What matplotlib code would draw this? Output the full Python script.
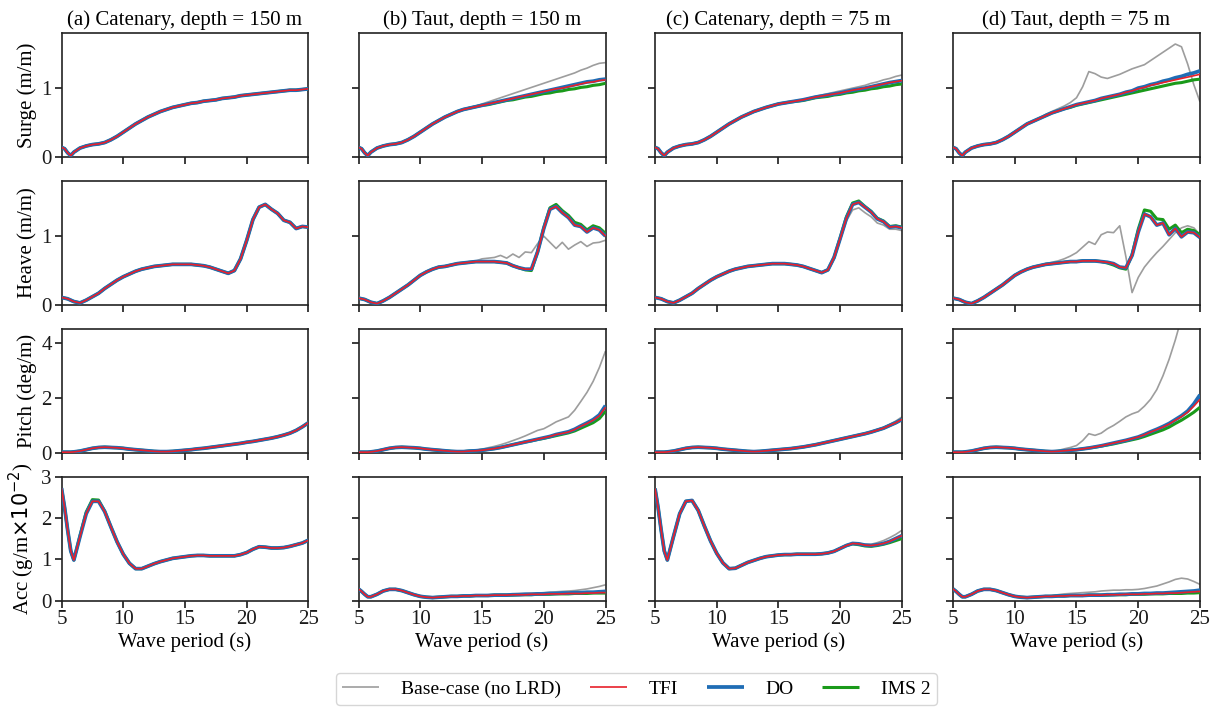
import matplotlib
matplotlib.use("Agg")
import matplotlib.pyplot as plt

plt.rcParams['font.family'] = ['Liberation Serif', 'DejaVu Serif']
plt.rcParams['mathtext.fontset'] = 'dejavusans'

# ---------------- data ----------------
period = [5.0, 5.25, 5.5, 5.75, 6.0, 6.5, 7.0, 7.5, 8.0, 8.5, 9.0, 9.5, 10.0, 10.5, 11.0,
          11.5, 12.0, 12.5, 13.0, 13.5, 14.0, 14.5, 15.0, 15.5, 16.0, 16.5, 17.0, 17.5,
          18.0, 18.5, 19.0, 19.5, 20.0, 20.5, 21.0, 21.5, 22.0, 22.5, 23.0, 23.5, 24.0,
          24.5, 25.0]

col_titles = ["(a) Catenary, depth = 150 m", "(b) Taut, depth = 150 m",
              "(c) Catenary, depth = 75 m", "(d) Taut, depth = 75 m"]
row_labels = ["Surge (m/m)", "Heave (m/m)", "Pitch (deg/m)", r"Acc (g/m$\times10^{-2}$)"]
row_ylims = [1.8, 1.8, 4.5, 3.0]
row_yticks = [[0, 1], [0, 1], [0, 2, 4], [0, 1, 2, 3]]
x_ticks = [5, 10, 15, 20, 25]
series_names = ["Base-case (no LRD)", "TFI", "DO", "IMS 2"]

# Surge
surge_a_tfi = [0.14, 0.12, 0.06, 0.02, 0.07, 0.13, 0.16, 0.18, 0.19, 0.21, 0.25, 0.30, 0.36, 0.42, 0.48,
               0.53, 0.58, 0.62, 0.66, 0.69, 0.72, 0.74, 0.76, 0.78, 0.79, 0.81, 0.82, 0.83, 0.85,
               0.86, 0.87, 0.89, 0.90, 0.91, 0.92, 0.93, 0.94, 0.95, 0.96, 0.97, 0.97, 0.98, 0.99]
surge_a_base = surge_a_tfi
surge_a_do = surge_a_tfi
surge_a_ims = surge_a_tfi

surge_b_tfi = [0.14, 0.12, 0.06, 0.02, 0.07, 0.13, 0.16, 0.18, 0.19, 0.21, 0.25, 0.30, 0.36, 0.42, 0.48,
               0.53, 0.58, 0.62, 0.66, 0.69, 0.71, 0.73, 0.75, 0.77, 0.79, 0.81, 0.83, 0.85, 0.87,
               0.89, 0.91, 0.93, 0.95, 0.97, 0.99, 1.00, 1.02, 1.04, 1.06, 1.08, 1.09, 1.11, 1.12]
surge_b_do = [0.14, 0.12, 0.06, 0.02, 0.07, 0.13, 0.16, 0.18, 0.19, 0.21, 0.25, 0.30, 0.36, 0.42, 0.48,
              0.53, 0.58, 0.62, 0.66, 0.69, 0.71, 0.73, 0.75, 0.77, 0.79, 0.81, 0.83, 0.85, 0.87,
              0.89, 0.91, 0.93, 0.95, 0.97, 0.99, 1.01, 1.03, 1.05, 1.07, 1.09, 1.10, 1.12, 1.13]
surge_b_ims = [0.14, 0.12, 0.06, 0.02, 0.07, 0.13, 0.16, 0.18, 0.19, 0.21, 0.25, 0.30, 0.36, 0.42, 0.48,
               0.53, 0.58, 0.62, 0.66, 0.69, 0.71, 0.73, 0.75, 0.76, 0.78, 0.80, 0.82, 0.83, 0.85,
               0.87, 0.88, 0.90, 0.92, 0.93, 0.95, 0.96, 0.98, 0.99, 1.01, 1.02, 1.04, 1.05, 1.07]
surge_b_base = [0.14, 0.12, 0.06, 0.02, 0.07, 0.13, 0.16, 0.18, 0.19, 0.21, 0.25, 0.30, 0.36, 0.42, 0.48,
                0.53, 0.58, 0.62, 0.66, 0.69, 0.72, 0.74, 0.77, 0.80, 0.83, 0.86, 0.89, 0.92, 0.95,
                0.98, 1.01, 1.04, 1.07, 1.10, 1.13, 1.16, 1.19, 1.22, 1.26, 1.29, 1.33, 1.36, 1.37]

surge_c_tfi = [0.14, 0.12, 0.06, 0.02, 0.07, 0.13, 0.16, 0.18, 0.19, 0.21, 0.25, 0.30, 0.36, 0.42, 0.48,
               0.53, 0.58, 0.62, 0.66, 0.69, 0.72, 0.745, 0.77, 0.785, 0.80, 0.815, 0.83, 0.85, 0.87,
               0.885, 0.90, 0.915, 0.93, 0.95, 0.97, 0.985, 1.00, 1.02, 1.04, 1.06, 1.08, 1.095, 1.11]
surge_c_do = surge_c_tfi
surge_c_base = [0.14, 0.12, 0.06, 0.02, 0.07, 0.13, 0.16, 0.18, 0.19, 0.21, 0.25, 0.30, 0.36, 0.42, 0.48,
                0.53, 0.58, 0.62, 0.66, 0.69, 0.72, 0.745, 0.77, 0.785, 0.80, 0.815, 0.83, 0.86, 0.88,
                0.90, 0.92, 0.94, 0.96, 0.98, 1.00, 1.02, 1.04, 1.07, 1.09, 1.12, 1.14, 1.17, 1.19]
surge_c_ims = [0.14, 0.12, 0.06, 0.02, 0.07, 0.13, 0.16, 0.18, 0.19, 0.21, 0.25, 0.30, 0.36, 0.42, 0.48,
               0.53, 0.58, 0.62, 0.66, 0.69, 0.72, 0.745, 0.77, 0.785, 0.80, 0.81, 0.82, 0.84, 0.86,
               0.87, 0.88, 0.90, 0.91, 0.93, 0.94, 0.96, 0.97, 0.99, 1.00, 1.02, 1.03, 1.05, 1.06]

surge_d_tfi = [0.14, 0.12, 0.06, 0.02, 0.07, 0.13, 0.16, 0.18, 0.19, 0.21, 0.25, 0.30, 0.36, 0.42, 0.48,
               0.52, 0.56, 0.60, 0.64, 0.67, 0.70, 0.73, 0.76, 0.78, 0.80, 0.82, 0.85, 0.87, 0.89,
               0.91, 0.94, 0.96, 0.99, 1.01, 1.04, 1.06, 1.08, 1.10, 1.12, 1.14, 1.16, 1.18, 1.20]
surge_d_do = [0.14, 0.12, 0.06, 0.02, 0.07, 0.13, 0.16, 0.18, 0.19, 0.21, 0.25, 0.30, 0.36, 0.42, 0.48,
              0.52, 0.56, 0.60, 0.64, 0.67, 0.70, 0.73, 0.76, 0.78, 0.80, 0.82, 0.85, 0.87, 0.89,
              0.91, 0.94, 0.96, 1.00, 1.02, 1.05, 1.07, 1.10, 1.12, 1.15, 1.17, 1.20, 1.22, 1.25]
surge_d_ims = [0.14, 0.12, 0.06, 0.02, 0.07, 0.13, 0.16, 0.18, 0.19, 0.21, 0.25, 0.30, 0.36, 0.42, 0.48,
               0.52, 0.56, 0.60, 0.64, 0.67, 0.70, 0.72, 0.75, 0.77, 0.79, 0.81, 0.83, 0.85, 0.87,
               0.89, 0.91, 0.93, 0.95, 0.97, 0.99, 1.01, 1.03, 1.05, 1.07, 1.08, 1.10, 1.12, 1.13]
surge_d_base = [0.14, 0.12, 0.06, 0.02, 0.07, 0.13, 0.16, 0.18, 0.19, 0.21, 0.25, 0.30, 0.36, 0.42, 0.48,
                0.52, 0.56, 0.62, 0.66, 0.70, 0.74, 0.79, 0.86, 1.02, 1.24, 1.21, 1.16, 1.14, 1.17,
                1.20, 1.24, 1.28, 1.31, 1.34, 1.40, 1.46, 1.52, 1.58, 1.64, 1.60, 1.35, 1.05, 0.80]

# Heave
heave_a_tfi = [0.11, 0.10, 0.09, 0.07, 0.05, 0.03, 0.07, 0.12, 0.17, 0.24, 0.30, 0.36, 0.41, 0.45, 0.49,
               0.52, 0.54, 0.56, 0.57, 0.58, 0.59, 0.59, 0.59, 0.59, 0.58, 0.57, 0.55, 0.52, 0.49,
               0.46, 0.50, 0.67, 0.94, 1.24, 1.42, 1.46, 1.39, 1.33, 1.23, 1.20, 1.11, 1.14, 1.13]
heave_a_base = heave_a_tfi
heave_a_do = heave_a_tfi
heave_a_ims = heave_a_tfi

heave_b_tfi = [0.10, 0.09, 0.08, 0.06, 0.04, 0.02, 0.06, 0.11, 0.17, 0.23, 0.29, 0.36, 0.43, 0.48, 0.52,
               0.55, 0.56, 0.58, 0.60, 0.61, 0.62, 0.63, 0.63, 0.63, 0.63, 0.62, 0.61, 0.57, 0.54,
               0.52, 0.52, 0.77, 1.11, 1.39, 1.43, 1.34, 1.27, 1.16, 1.14, 1.06, 1.12, 1.09, 1.00]
heave_b_do = heave_b_tfi
heave_b_ims = [0.10, 0.09, 0.08, 0.06, 0.04, 0.02, 0.06, 0.11, 0.17, 0.23, 0.29, 0.36, 0.43, 0.48, 0.52,
               0.55, 0.56, 0.58, 0.60, 0.61, 0.62, 0.63, 0.63, 0.63, 0.63, 0.62, 0.61, 0.57, 0.54,
               0.51, 0.50, 0.77, 1.12, 1.41, 1.46, 1.37, 1.30, 1.20, 1.17, 1.09, 1.15, 1.12, 1.04]
heave_b_base = [0.10, 0.09, 0.08, 0.06, 0.04, 0.02, 0.06, 0.11, 0.17, 0.23, 0.29, 0.36, 0.43, 0.48, 0.52,
                0.55, 0.56, 0.58, 0.60, 0.61, 0.62, 0.64, 0.67, 0.68, 0.69, 0.72, 0.68, 0.74, 0.69,
                0.77, 0.76, 0.89, 1.00, 0.91, 0.82, 0.91, 0.81, 0.87, 0.92, 0.85, 0.90, 0.91, 0.94]

heave_c_tfi = [0.11, 0.10, 0.09, 0.07, 0.05, 0.03, 0.07, 0.12, 0.17, 0.24, 0.30, 0.36, 0.41, 0.45, 0.49,
               0.52, 0.54, 0.56, 0.57, 0.58, 0.59, 0.60, 0.60, 0.60, 0.59, 0.58, 0.56, 0.53, 0.50,
               0.47, 0.51, 0.69, 0.97, 1.26, 1.46, 1.49, 1.42, 1.35, 1.25, 1.21, 1.13, 1.14, 1.12]
heave_c_do = heave_c_tfi
heave_c_ims = [0.11, 0.10, 0.09, 0.07, 0.05, 0.03, 0.07, 0.12, 0.17, 0.24, 0.30, 0.36, 0.41, 0.45, 0.49,
               0.52, 0.54, 0.56, 0.57, 0.58, 0.59, 0.60, 0.60, 0.60, 0.59, 0.58, 0.56, 0.53, 0.50,
               0.47, 0.51, 0.69, 0.98, 1.28, 1.48, 1.51, 1.43, 1.36, 1.26, 1.22, 1.14, 1.15, 1.13]
heave_c_base = [0.11, 0.10, 0.09, 0.07, 0.05, 0.03, 0.07, 0.12, 0.17, 0.24, 0.30, 0.36, 0.41, 0.45, 0.49,
                0.52, 0.54, 0.56, 0.57, 0.58, 0.59, 0.60, 0.60, 0.60, 0.59, 0.58, 0.56, 0.53, 0.50,
                0.47, 0.51, 0.68, 0.95, 1.22, 1.38, 1.41, 1.34, 1.28, 1.19, 1.16, 1.10, 1.10, 1.08]

heave_d_tfi = [0.10, 0.09, 0.08, 0.06, 0.04, 0.02, 0.06, 0.11, 0.17, 0.23, 0.29, 0.36, 0.43, 0.48, 0.52,
               0.55, 0.57, 0.59, 0.60, 0.61, 0.62, 0.63, 0.63, 0.64, 0.64, 0.64, 0.63, 0.62, 0.60,
               0.55, 0.54, 0.72, 1.06, 1.32, 1.28, 1.16, 1.19, 1.02, 1.11, 0.99, 1.06, 1.05, 0.98]
heave_d_do = heave_d_tfi
heave_d_ims = [0.10, 0.09, 0.08, 0.06, 0.04, 0.02, 0.06, 0.11, 0.17, 0.23, 0.29, 0.36, 0.43, 0.48, 0.52,
               0.55, 0.57, 0.59, 0.60, 0.61, 0.62, 0.63, 0.63, 0.64, 0.64, 0.64, 0.63, 0.61, 0.58,
               0.54, 0.52, 0.73, 1.10, 1.38, 1.36, 1.25, 1.24, 1.10, 1.16, 1.05, 1.10, 1.08, 1.02]
heave_d_base = [0.10, 0.09, 0.08, 0.06, 0.04, 0.02, 0.06, 0.11, 0.17, 0.23, 0.29, 0.36, 0.43, 0.48, 0.52,
                0.55, 0.57, 0.60, 0.62, 0.64, 0.67, 0.71, 0.76, 0.84, 0.92, 0.88, 1.02, 1.06, 1.05,
                1.15, 0.70, 0.18, 0.40, 0.55, 0.66, 0.76, 0.85, 0.95, 1.05, 1.12, 1.15, 1.12, 1.02]

# Pitch
pitch_a_tfi = [0.03, 0.03, 0.03, 0.03, 0.04, 0.07, 0.12, 0.17, 0.20, 0.21, 0.20, 0.19, 0.17, 0.14, 0.12,
               0.10, 0.08, 0.06, 0.05, 0.05, 0.06, 0.08, 0.10, 0.12, 0.15, 0.17, 0.20, 0.23, 0.26,
               0.29, 0.32, 0.35, 0.39, 0.42, 0.46, 0.50, 0.54, 0.59, 0.65, 0.72, 0.82, 0.95, 1.10]
pitch_a_base = pitch_a_tfi
pitch_a_do = pitch_a_tfi
pitch_a_ims = pitch_a_tfi

pitch_b_tfi = [0.03, 0.03, 0.03, 0.03, 0.04, 0.07, 0.12, 0.17, 0.20, 0.21, 0.20, 0.19, 0.17, 0.14, 0.12,
               0.10, 0.08, 0.06, 0.05, 0.05, 0.07, 0.08, 0.10, 0.13, 0.16, 0.20, 0.25, 0.30, 0.35,
               0.40, 0.45, 0.50, 0.55, 0.60, 0.67, 0.71, 0.76, 0.85, 0.97, 1.07, 1.19, 1.35, 1.66]
pitch_b_do = [0.03, 0.03, 0.03, 0.03, 0.04, 0.07, 0.12, 0.17, 0.20, 0.21, 0.20, 0.19, 0.17, 0.14, 0.12,
              0.10, 0.08, 0.06, 0.05, 0.05, 0.07, 0.08, 0.10, 0.13, 0.16, 0.20, 0.25, 0.30, 0.35,
              0.40, 0.45, 0.50, 0.55, 0.60, 0.67, 0.72, 0.77, 0.86, 0.98, 1.09, 1.21, 1.38, 1.72]
pitch_b_ims = [0.03, 0.03, 0.03, 0.03, 0.04, 0.07, 0.12, 0.17, 0.20, 0.21, 0.20, 0.19, 0.17, 0.14, 0.12,
               0.10, 0.08, 0.06, 0.05, 0.05, 0.07, 0.08, 0.10, 0.13, 0.16, 0.20, 0.25, 0.30, 0.35,
               0.40, 0.44, 0.49, 0.53, 0.58, 0.63, 0.68, 0.73, 0.80, 0.90, 1.00, 1.10, 1.25, 1.52]
pitch_b_base = [0.03, 0.03, 0.03, 0.03, 0.04, 0.07, 0.12, 0.17, 0.20, 0.21, 0.20, 0.19, 0.17, 0.14, 0.12,
                0.10, 0.08, 0.06, 0.05, 0.06, 0.07, 0.10, 0.14, 0.19, 0.24, 0.30, 0.37, 0.45, 0.53,
                0.62, 0.72, 0.82, 0.88, 1.00, 1.13, 1.22, 1.31, 1.55, 1.87, 2.20, 2.60, 3.10, 3.70]

pitch_c_tfi = [0.03, 0.03, 0.03, 0.03, 0.04, 0.07, 0.12, 0.17, 0.20, 0.21, 0.20, 0.19, 0.17, 0.14, 0.12,
               0.10, 0.08, 0.06, 0.05, 0.06, 0.08, 0.10, 0.12, 0.14, 0.16, 0.19, 0.22, 0.26, 0.30,
               0.35, 0.40, 0.45, 0.50, 0.55, 0.60, 0.65, 0.70, 0.76, 0.83, 0.90, 1.00, 1.10, 1.22]
pitch_c_do = pitch_c_tfi
pitch_c_ims = pitch_c_tfi
pitch_c_base = [0.03, 0.03, 0.03, 0.03, 0.04, 0.07, 0.12, 0.17, 0.20, 0.21, 0.20, 0.19, 0.17, 0.14, 0.12,
                0.10, 0.08, 0.06, 0.05, 0.06, 0.08, 0.10, 0.12, 0.14, 0.16, 0.19, 0.22, 0.26, 0.30,
                0.35, 0.40, 0.45, 0.50, 0.55, 0.60, 0.65, 0.71, 0.77, 0.85, 0.93, 1.04, 1.16, 1.31]

pitch_d_tfi = [0.03, 0.03, 0.03, 0.03, 0.04, 0.07, 0.12, 0.17, 0.20, 0.21, 0.20, 0.19, 0.17, 0.14, 0.12,
               0.10, 0.08, 0.06, 0.05, 0.06, 0.08, 0.10, 0.12, 0.15, 0.18, 0.22, 0.26, 0.31, 0.36,
               0.41, 0.46, 0.52, 0.58, 0.66, 0.76, 0.85, 0.94, 1.05, 1.19, 1.32, 1.48, 1.70, 1.95]
pitch_d_do = [0.03, 0.03, 0.03, 0.03, 0.04, 0.07, 0.12, 0.17, 0.20, 0.21, 0.20, 0.19, 0.17, 0.14, 0.12,
              0.10, 0.08, 0.06, 0.05, 0.06, 0.08, 0.10, 0.12, 0.15, 0.18, 0.22, 0.26, 0.31, 0.36,
              0.41, 0.46, 0.52, 0.58, 0.67, 0.77, 0.86, 0.96, 1.07, 1.21, 1.35, 1.52, 1.78, 2.11]
pitch_d_ims = [0.03, 0.03, 0.03, 0.03, 0.04, 0.07, 0.12, 0.17, 0.20, 0.21, 0.20, 0.19, 0.17, 0.14, 0.12,
               0.10, 0.08, 0.06, 0.05, 0.06, 0.08, 0.10, 0.12, 0.15, 0.18, 0.21, 0.25, 0.29, 0.33,
               0.38, 0.43, 0.48, 0.53, 0.60, 0.68, 0.76, 0.84, 0.94, 1.07, 1.19, 1.33, 1.48, 1.66]
pitch_d_base = [0.03, 0.03, 0.03, 0.03, 0.04, 0.07, 0.12, 0.17, 0.20, 0.21, 0.20, 0.19, 0.17, 0.14, 0.12,
                0.10, 0.08, 0.06, 0.06, 0.09, 0.15, 0.20, 0.27, 0.45, 0.70, 0.64, 0.72, 0.88, 1.00,
                1.15, 1.31, 1.42, 1.50, 1.70, 1.95, 2.30, 2.80, 3.40, 4.10, 4.90, 5.80, 6.80, 8.00]

# Acceleration
acc_a_tfi = [2.72, 2.25, 1.70, 1.20, 0.98, 1.55, 2.10, 2.40, 2.40, 2.15, 1.78, 1.42, 1.12, 0.90, 0.77,
             0.77, 0.83, 0.89, 0.94, 0.98, 1.02, 1.04, 1.06, 1.08, 1.09, 1.09, 1.08, 1.08, 1.08,
             1.08, 1.08, 1.11, 1.16, 1.24, 1.30, 1.29, 1.27, 1.27, 1.28, 1.31, 1.35, 1.39, 1.46]
acc_a_base = acc_a_tfi
acc_a_do = acc_a_tfi
acc_a_ims = [2.72, 2.25, 1.70, 1.20, 0.98, 1.57, 2.14, 2.44, 2.43, 2.16, 1.78, 1.42, 1.12, 0.90, 0.77,
             0.77, 0.83, 0.89, 0.94, 0.98, 1.02, 1.04, 1.06, 1.08, 1.09, 1.09, 1.08, 1.08, 1.08,
             1.08, 1.08, 1.11, 1.16, 1.24, 1.30, 1.29, 1.27, 1.27, 1.28, 1.31, 1.35, 1.39, 1.46]

acc_b_tfi = [0.28, 0.22, 0.15, 0.09, 0.09, 0.15, 0.23, 0.27, 0.27, 0.24, 0.19, 0.14, 0.10, 0.08, 0.07,
             0.08, 0.09, 0.10, 0.10, 0.11, 0.11, 0.12, 0.12, 0.12, 0.13, 0.13, 0.13, 0.14, 0.14,
             0.14, 0.15, 0.15, 0.15, 0.16, 0.16, 0.16, 0.17, 0.17, 0.17, 0.18, 0.18, 0.19, 0.19]
acc_b_do = [0.28, 0.22, 0.15, 0.09, 0.09, 0.15, 0.23, 0.27, 0.27, 0.24, 0.19, 0.14, 0.10, 0.08, 0.07,
            0.08, 0.09, 0.10, 0.10, 0.11, 0.11, 0.12, 0.12, 0.12, 0.13, 0.13, 0.13, 0.14, 0.14,
            0.15, 0.15, 0.16, 0.16, 0.17, 0.17, 0.18, 0.18, 0.19, 0.19, 0.20, 0.20, 0.21, 0.22]
acc_b_ims = [0.28, 0.22, 0.15, 0.09, 0.09, 0.15, 0.23, 0.27, 0.27, 0.24, 0.19, 0.14, 0.10, 0.08, 0.07,
             0.08, 0.09, 0.10, 0.10, 0.11, 0.11, 0.12, 0.12, 0.12, 0.13, 0.13, 0.13, 0.13, 0.14,
             0.14, 0.14, 0.15, 0.15, 0.15, 0.16, 0.16, 0.16, 0.17, 0.17, 0.17, 0.18, 0.18, 0.18]
acc_b_base = [0.28, 0.22, 0.15, 0.09, 0.09, 0.15, 0.23, 0.27, 0.27, 0.24, 0.19, 0.14, 0.10, 0.08, 0.07,
              0.08, 0.09, 0.10, 0.11, 0.12, 0.12, 0.13, 0.13, 0.14, 0.14, 0.15, 0.15, 0.16, 0.17,
              0.17, 0.18, 0.18, 0.19, 0.20, 0.21, 0.22, 0.23, 0.24, 0.26, 0.28, 0.31, 0.34, 0.38]

acc_c_tfi = [2.71, 2.25, 1.70, 1.20, 0.98, 1.55, 2.10, 2.40, 2.42, 2.18, 1.80, 1.44, 1.14, 0.91, 0.77,
             0.78, 0.85, 0.92, 0.97, 1.02, 1.06, 1.08, 1.10, 1.11, 1.11, 1.12, 1.12, 1.12, 1.12,
             1.13, 1.15, 1.19, 1.26, 1.33, 1.38, 1.37, 1.34, 1.33, 1.35, 1.38, 1.43, 1.50, 1.57]
acc_c_do = acc_c_tfi
acc_c_ims = [2.71, 2.25, 1.70, 1.20, 0.98, 1.55, 2.10, 2.40, 2.42, 2.18, 1.80, 1.44, 1.14, 0.91, 0.77,
             0.78, 0.85, 0.92, 0.97, 1.02, 1.06, 1.08, 1.10, 1.11, 1.11, 1.12, 1.12, 1.12, 1.12,
             1.13, 1.15, 1.19, 1.26, 1.33, 1.37, 1.35, 1.32, 1.31, 1.33, 1.36, 1.40, 1.45, 1.50]
acc_c_base = [2.71, 2.25, 1.70, 1.20, 0.98, 1.55, 2.10, 2.40, 2.42, 2.18, 1.80, 1.44, 1.14, 0.91, 0.77,
              0.78, 0.85, 0.92, 0.97, 1.02, 1.06, 1.08, 1.10, 1.11, 1.11, 1.12, 1.12, 1.12, 1.13,
              1.14, 1.16, 1.20, 1.27, 1.34, 1.39, 1.38, 1.36, 1.36, 1.40, 1.45, 1.52, 1.60, 1.70]

acc_d_tfi = [0.28, 0.22, 0.15, 0.09, 0.09, 0.15, 0.23, 0.27, 0.27, 0.24, 0.19, 0.14, 0.10, 0.08, 0.07,
             0.08, 0.09, 0.10, 0.10, 0.11, 0.11, 0.12, 0.12, 0.12, 0.13, 0.13, 0.13, 0.14, 0.14,
             0.14, 0.15, 0.15, 0.15, 0.16, 0.16, 0.17, 0.17, 0.18, 0.18, 0.19, 0.20, 0.21, 0.22]
acc_d_do = [0.28, 0.22, 0.15, 0.09, 0.09, 0.15, 0.23, 0.27, 0.27, 0.24, 0.19, 0.14, 0.10, 0.08, 0.07,
            0.08, 0.09, 0.10, 0.10, 0.11, 0.11, 0.12, 0.12, 0.12, 0.13, 0.13, 0.13, 0.14, 0.14,
            0.15, 0.15, 0.16, 0.16, 0.17, 0.17, 0.18, 0.18, 0.19, 0.20, 0.21, 0.22, 0.23, 0.25]
acc_d_ims = [0.28, 0.22, 0.15, 0.09, 0.09, 0.15, 0.23, 0.27, 0.27, 0.24, 0.19, 0.14, 0.10, 0.08, 0.07,
             0.08, 0.09, 0.10, 0.10, 0.11, 0.11, 0.12, 0.12, 0.12, 0.13, 0.13, 0.13, 0.13, 0.14,
             0.14, 0.14, 0.15, 0.15, 0.15, 0.16, 0.16, 0.16, 0.17, 0.17, 0.17, 0.18, 0.18, 0.19]
acc_d_base = [0.28, 0.22, 0.15, 0.09, 0.09, 0.15, 0.23, 0.27, 0.27, 0.24, 0.19, 0.14, 0.10, 0.08, 0.07,
              0.08, 0.09, 0.10, 0.12, 0.14, 0.16, 0.17, 0.18, 0.19, 0.20, 0.21, 0.23, 0.24, 0.25,
              0.25, 0.26, 0.26, 0.27, 0.29, 0.32, 0.35, 0.40, 0.45, 0.51, 0.54, 0.52, 0.46, 0.39]

# ---------------- assemble ----------------
panels = [
    [(surge_a_base, surge_a_tfi, surge_a_do, surge_a_ims),
     (surge_b_base, surge_b_tfi, surge_b_do, surge_b_ims),
     (surge_c_base, surge_c_tfi, surge_c_do, surge_c_ims),
     (surge_d_base, surge_d_tfi, surge_d_do, surge_d_ims)],
    [(heave_a_base, heave_a_tfi, heave_a_do, heave_a_ims),
     (heave_b_base, heave_b_tfi, heave_b_do, heave_b_ims),
     (heave_c_base, heave_c_tfi, heave_c_do, heave_c_ims),
     (heave_d_base, heave_d_tfi, heave_d_do, heave_d_ims)],
    [(pitch_a_base, pitch_a_tfi, pitch_a_do, pitch_a_ims),
     (pitch_b_base, pitch_b_tfi, pitch_b_do, pitch_b_ims),
     (pitch_c_base, pitch_c_tfi, pitch_c_do, pitch_c_ims),
     (pitch_d_base, pitch_d_tfi, pitch_d_do, pitch_d_ims)],
    [(acc_a_base, acc_a_tfi, acc_a_do, acc_a_ims),
     (acc_b_base, acc_b_tfi, acc_b_do, acc_b_ims),
     (acc_c_base, acc_c_tfi, acc_c_do, acc_c_ims),
     (acc_d_base, acc_d_tfi, acc_d_do, acc_d_ims)],
]

# styles: (color, linewidth, zorder) in order base, tfi, do, ims
styles = [("#9d9d9d", 1.2, 2), ("#e8202a", 1.2, 5), ("#1f6db5", 2.7, 4), ("#1a9a1a", 2.2, 3)]

W, H = 1217, 707
fig = plt.figure(figsize=(W / 100, H / 100), dpi=100)

col_left = [61.5, 358.5, 655.0, 953.0]
ax_w = 247.0
row_top = [33.0, 181.0, 329.0, 476.5]
ax_h = 124.0

FS = 15
handles = None
for r in range(4):
    for c in range(4):
        ax = fig.add_axes([col_left[c] / W, 1 - (row_top[r] + ax_h) / H, ax_w / W, ax_h / H])
        lines = []
        for k, (ys, (col, lw, z)) in enumerate(zip(panels[r][c], styles)):
            ln, = ax.plot(period, ys, color=col, lw=lw, zorder=z, label=series_names[k],
                          solid_capstyle='butt')
            lines.append(ln)
        if handles is None:
            handles = lines
        ax.set_xlim(5, 25)
        ax.set_ylim(0, row_ylims[r])
        ax.set_xticks(x_ticks)
        ax.set_yticks(row_yticks[r])
        ax.tick_params(direction='out', length=5, width=1.2, labelsize=FS, pad=2, colors='#1a1a1a')
        for sp in ax.spines.values():
            sp.set_linewidth(1.2)
            sp.set_color('#222222')
        if c == 0:
            ax.set_ylabel(row_labels[r], fontsize=FS, labelpad=3)
        else:
            ax.set_yticklabels([])
        if r == 3:
            ax.set_xlabel("Wave period (s)", fontsize=FS, labelpad=2)
        else:
            ax.set_xticklabels([])
        if r == 0:
            ax.set_title(col_titles[c], fontsize=FS, pad=6)

leg = fig.legend(handles, series_names,
                 loc='center', bbox_to_anchor=(636.5 / W, 1 - 689 / H), ncol=4,
                 fontsize=14, frameon=True, fancybox=True, handlelength=1.9,
                 columnspacing=1.5, handletextpad=1.1, borderpad=0.35)
leg.get_frame().set_edgecolor('#cccccc')
leg.get_frame().set_linewidth(1.0)

fig.savefig("out.png", dpi=100)
